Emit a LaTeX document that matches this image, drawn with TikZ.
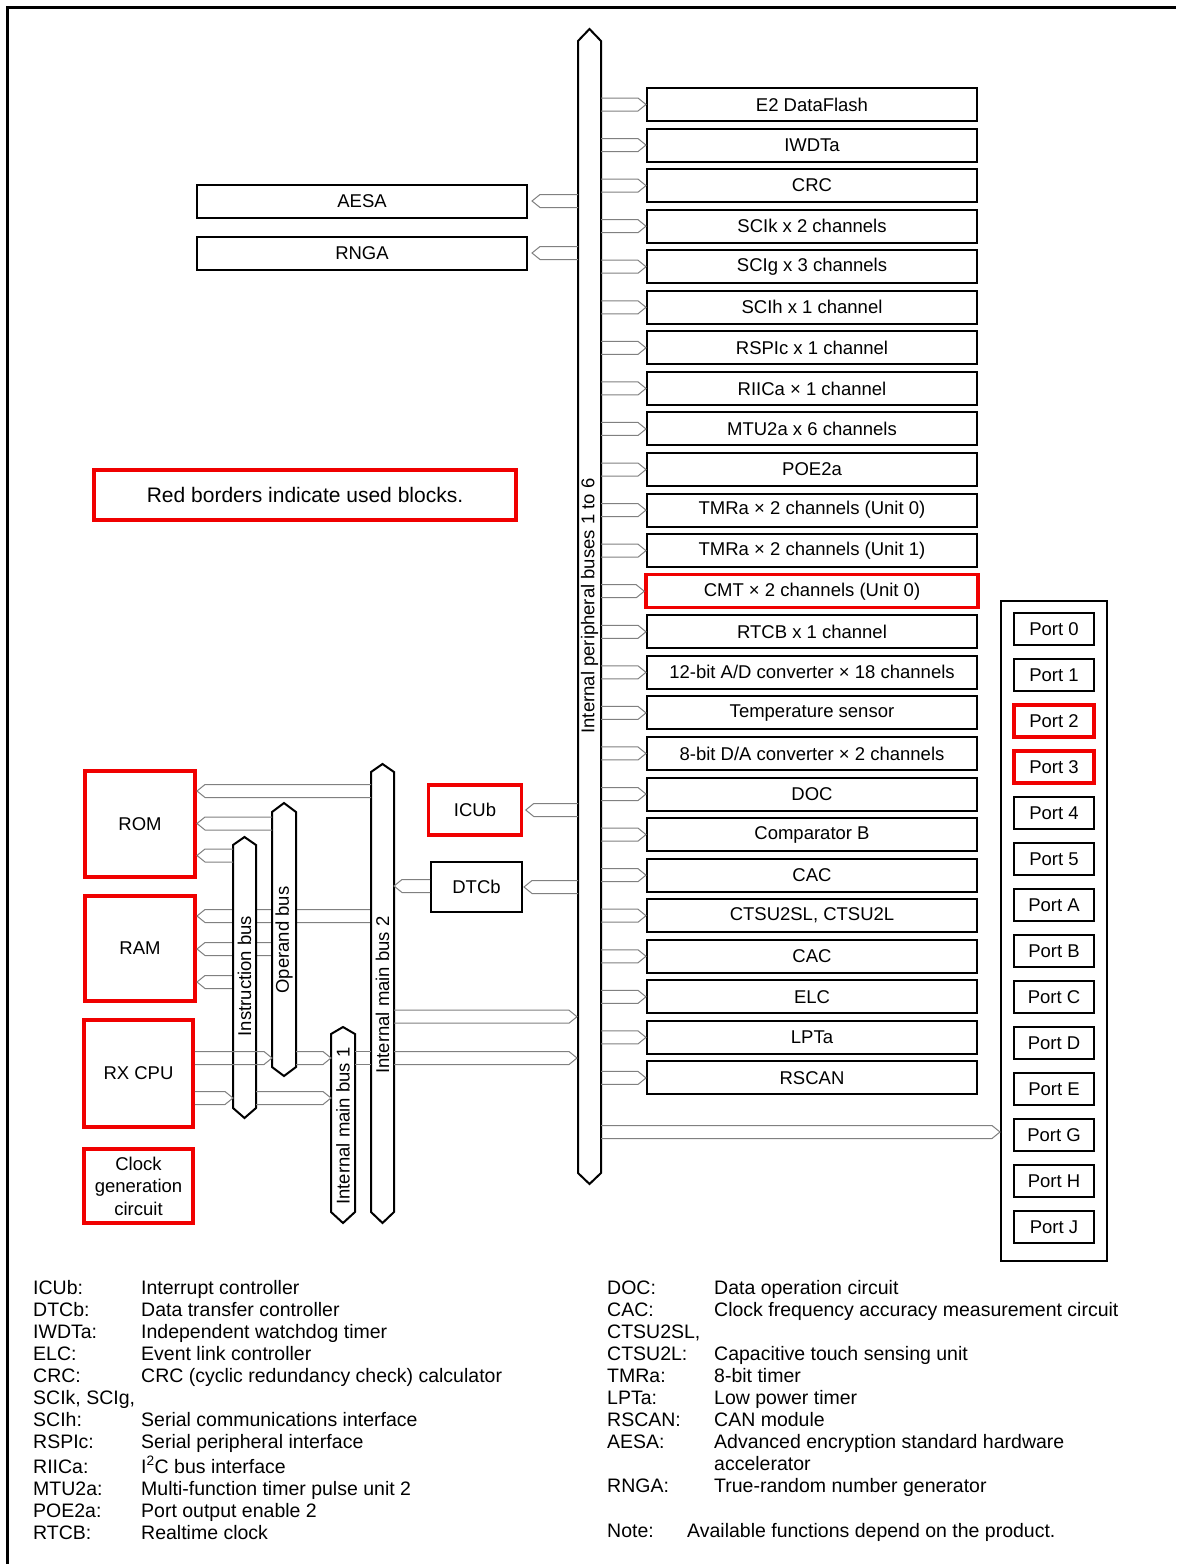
\documentclass[tikz,border=0pt]{standalone}
\usepackage{fontspec}
\setmainfont{Liberation Sans}
\usetikzlibrary{calc}
\definecolor{usedred}{RGB}{240,0,0}
\tikzset{
 blk/.style={draw=black, line width=2, minimum width=330, minimum height=33, inner sep=0, fill=white},
 used/.style={draw=usedred, line width=3.5},
 port/.style={draw=black, line width=2, minimum width=80, minimum height=32, inner sep=0},
 uport/.style={port, used},
 bus/.style={draw=black, line width=2, fill=white, line join=miter},
 conn/.style={draw=black!50, line width=1},
 buslabel/.style={rotate=90, inner sep=0},
 legend/.style={anchor=base west, inner sep=0, font=\fontsize{19.5}{22}\selectfont},
}
% hollow arrow pointing right: tail x from #1, tip at #2
\newcommand\arrR[2]{\draw[conn] ($(#2 -| #1)+(0,-6.5)$) -- ($(#2)+(-8,-6.5)$) -- (#2) -- ($(#2)+(-8,6.5)$) -- ($(#2 -| #1)+(0,6.5)$);}
% hollow arrow pointing left
\newcommand\arrL[2]{\draw[conn] ($(#2 -| #1)+(0,-6.5)$) -- ($(#2)+(8,-6.5)$) -- (#2) -- ($(#2)+(8,6.5)$) -- ($(#2 -| #1)+(0,6.5)$);}
% bus: name, xl, xr, toptip, topshoulder, botshoulder, bottip
\newcommand\busshape[7]{%
 \draw[bus] ({(#2+#3)/2},#4) -- (#3,#5) -- (#3,#6) -- ({(#2+#3)/2},#7) -- (#2,#6) -- (#2,#5) -- cycle;}
\newcommand\pbox[3][]{\node[blk,#1] (p#2) at (812,{104.5+40.56*#2}) {#3};}
\begin{document}
\begin{tikzpicture}[x=1pt,y=-1pt,font=\fontsize{18.5}{22.5}\selectfont]
\useasboundingbox (0,0) rectangle (1176,1564);
\fill[white] (0,0) rectangle (1176,1564);
% frame
\draw[line width=3] (7.5,1564) -- (7.5,7.5) -- (1176,7.5);

% bus edge coordinates
\coordinate (pbL) at (578,0);  \coordinate (pbR) at (601,0);
\coordinate (mb2L) at (371,0); \coordinate (mb2R) at (394,0);
\coordinate (obL) at (272,0);  \coordinate (obR) at (296,0);
\coordinate (ibL) at (233,0);  \coordinate (ibR) at (256,0);
\coordinate (mb1L) at (331,0); \coordinate (mb1R) at (355,0);

% memory / CPU blocks
\node[draw=usedred, line width=3.5, minimum width=110, minimum height=106, inner sep=0] (ROM) at (140,824) {ROM};
\node[draw=usedred, line width=3.5, minimum width=110, minimum height=105, inner sep=0] (RAM) at (140,948.5) {RAM};
\node[draw=usedred, line width=3.5, minimum width=109, minimum height=107, inner sep=0] (RX) at (138.5,1073.5) {RX CPU};
\node[draw=usedred, line width=3.5, minimum width=109, minimum height=74, inner sep=0, align=center] (CLK) at (138.5,1186) {Clock\\generation\\circuit};

% RAM connections (behind the buses)
\coordinate (ram1) at (197,916);
\coordinate (ram2) at (197,949);
\coordinate (ram3) at (197,982);
\arrL{mb2L}{ram1}
\arrL{obL}{ram2}
\arrL{ibL}{ram3}

% buses
\busshape{pb}{578}{601}{29}{41}{1173}{1184}
\busshape{mb2}{371}{394}{764}{772}{1212}{1223}
\busshape{ob}{272}{296}{803}{812}{1067}{1076}
\busshape{ib}{233}{256}{837}{845}{1108}{1118}
\busshape{mb1}{331}{355}{1027}{1034}{1212}{1223}
\node[buslabel] (pblab) at (589.5,606) {Internal peripheral buses 1 to 6};
\node[buslabel] (mb2lab) at (382.5,995) {Internal main bus 2};
\node[buslabel] (oblab) at (284,940) {Operand bus};
\node[buslabel] (iblab) at (244.5,976) {Instruction bus};
\node[buslabel] (mb1lab) at (343,1126) {Internal main bus 1};

% peripheral boxes
\pbox{0}{E2 DataFlash}
\pbox{1}{IWDTa}
\pbox{2}{CRC}
\pbox{3}{SCIk x 2 channels}
\pbox{4}{SCIg x 3 channels}
\pbox{5}{SCIh x 1 channel}
\pbox{6}{RSPIc x 1 channel}
\pbox{7}{RIICa × 1 channel}
\pbox{8}{MTU2a x 6 channels}
\pbox{9}{POE2a}
\pbox{10}{TMRa × 2 channels (Unit 0)}
\pbox{11}{TMRa × 2 channels (Unit 1)}
\pbox[used,minimum width=332]{12}{CMT × 2 channels (Unit 0)}
\pbox{13}{RTCB x 1 channel}
\pbox{14}{12-bit A/D converter × 18 channels}
\pbox{15}{Temperature sensor}
\pbox{16}{8-bit D/A converter × 2 channels}
\pbox{17}{DOC}
\pbox{18}{Comparator B}
\pbox{19}{CAC}
\pbox{20}{CTSU2SL, CTSU2L}
\pbox{21}{CAC}
\pbox{22}{ELC}
\pbox{23}{LPTa}
\pbox{24}{RSCAN}
\foreach \i in {0,...,24} {\arrR{pbR}{p\i.west}}

% AESA / RNGA
\node[blk] (AESA) at (362,201) {AESA};
\node[blk] (RNGA) at (362,253) {RNGA};
\coordinate (aeT) at ($(AESA.east)+(4,0)$);
\coordinate (rnT) at ($(RNGA.east)+(4,0)$);
\arrL{pbL}{aeT}
\arrL{pbL}{rnT}

% note box
\node[draw=usedred, line width=3.5, minimum width=422, minimum height=50, inner sep=0,
      font=\fontsize{21}{24}\selectfont] (note) at (305,495) {Red borders indicate used blocks.};

% ICUb, DTCb
\node[blk, used, minimum width=93, minimum height=50] (ICUb) at (475,810) {ICUb};
\node[blk, minimum width=91, minimum height=50] (DTCb) at (476.5,887) {DTCb};
\coordinate (icT) at ($(ICUb.east)+(2.5,0)$);
\coordinate (dtT) at ($(DTCb.east)+(1,0)$);
\arrL{pbL}{icT}
\arrL{pbL}{dtT}
\coordinate (dt2) at (394,886);
\arrL{DTCb.west}{dt2}

% ROM connections
\coordinate (rom1) at (197,791);
\coordinate (rom2) at (197,823.5);
\coordinate (rom3) at (197,855.5);
\arrL{mb2L}{rom1}
\arrL{obL}{rom2}
\arrL{ibL}{rom3}

% RX CPU connections
\coordinate (rx1) at (272,1058);
\coordinate (rx2) at (331,1058);
\coordinate (rx3) at (233,1098);
\coordinate (rx4) at (331,1098);
\arrR{RX.east}{rx1}
\arrR{obR}{rx2}
\arrR{RX.east}{rx3}
\arrR{ibR}{rx4}
\coordinate (l1) at (0,1051.5);
\coordinate (l2) at (0,1064.5);
\draw[conn] (l1 -| mb1R) -- (l1 -| mb2L);
\draw[conn] (l2 -| mb1R) -- (l2 -| mb2L);

% main bus 2 to peripheral bus
\coordinate (mp1) at (577,1016.7);
\coordinate (mp2) at (577,1058);
\arrR{mb2R}{mp1}
\arrR{mb2R}{mp2}

% ports
\node[draw=black, line width=2, minimum width=106, minimum height=660, inner sep=0] (portbox) at (1054,931) {};
\foreach \t/\s [count=\i from 0] in {0/port,1/port,2/uport,3/uport,4/port,5/port,A/port,B/port,C/port,D/port,E/port,G/port,H/port,J/port}
 {\node[\s] (port\t) at (1054,{629+46*\i}) {Port \t};}
\coordinate (pbport) at (1000,1132);
\arrR{pbR}{pbport}

% legend left
\node[legend] (k1) at (33,1294) {ICUb:};      \node[legend] (d1) at (141,1294) {Interrupt controller};
\node[legend] (k2) at (33,1316) {DTCb:};      \node[legend] (d2) at (141,1316) {Data transfer controller};
\node[legend] (k3) at (33,1338.5) {IWDTa:};   \node[legend] (d3) at (141,1338.5) {Independent watchdog timer};
\node[legend] (k4) at (33,1360) {ELC:};       \node[legend] (d4) at (141,1360) {Event link controller};
\node[legend] (k5) at (33,1382) {CRC:};       \node[legend] (d5) at (141,1382) {CRC (cyclic redundancy check) calculator};
\node[legend] (k6) at (33,1404) {SCIk, SCIg,};
\node[legend] (k7) at (33,1426) {SCIh:};      \node[legend] (d7) at (141,1426) {Serial communications interface};
\node[legend] (k8) at (33,1448.5) {RSPIc:};   \node[legend] (d8) at (141,1448.5) {Serial peripheral interface};
\node[legend] (k9) at (33,1473) {RIICa:};     \node[legend] (d9) at (141,1473) {I\textsuperscript{2}C bus interface};
\node[legend] (k10) at (33,1495) {MTU2a:};    \node[legend] (d10) at (141,1495) {Multi-function timer pulse unit 2};
\node[legend] (k11) at (33,1517) {POE2a:};    \node[legend] (d11) at (141,1517) {Port output enable 2};
\node[legend] (k12) at (33,1539) {RTCB:};     \node[legend] (d12) at (141,1539) {Realtime clock};

% legend right
\node[legend] (r1) at (607,1294) {DOC:};      \node[legend] (e1) at (714,1294) {Data operation circuit};
\node[legend] (r2) at (607,1316) {CAC:};      \node[legend] (e2) at (714,1316) {Clock frequency accuracy measurement circuit};
\node[legend] (r3) at (607,1338) {CTSU2SL,};
\node[legend] (r4) at (607,1360) {CTSU2L:};   \node[legend] (e4) at (714,1360) {Capacitive touch sensing unit};
\node[legend] (r5) at (607,1382) {TMRa:};     \node[legend] (e5) at (714,1382) {8-bit timer};
\node[legend] (r6) at (607,1404) {LPTa:};     \node[legend] (e6) at (714,1404) {Low power timer};
\node[legend] (r7) at (607,1426) {RSCAN:};    \node[legend] (e7) at (714,1426) {CAN module};
\node[legend] (r8) at (607,1448) {AESA:};     \node[legend] (e8) at (714,1448) {Advanced encryption standard hardware};
\node[legend] (e8b) at (714,1470) {accelerator};
\node[legend] (r9) at (607,1492) {RNGA:};     \node[legend] (e9) at (714,1492) {True-random number generator};
\node[legend] (r10) at (607,1537) {Note:};    \node[legend] (e10) at (687,1537) {Available functions depend on the product.};
\end{tikzpicture}
\end{document}
